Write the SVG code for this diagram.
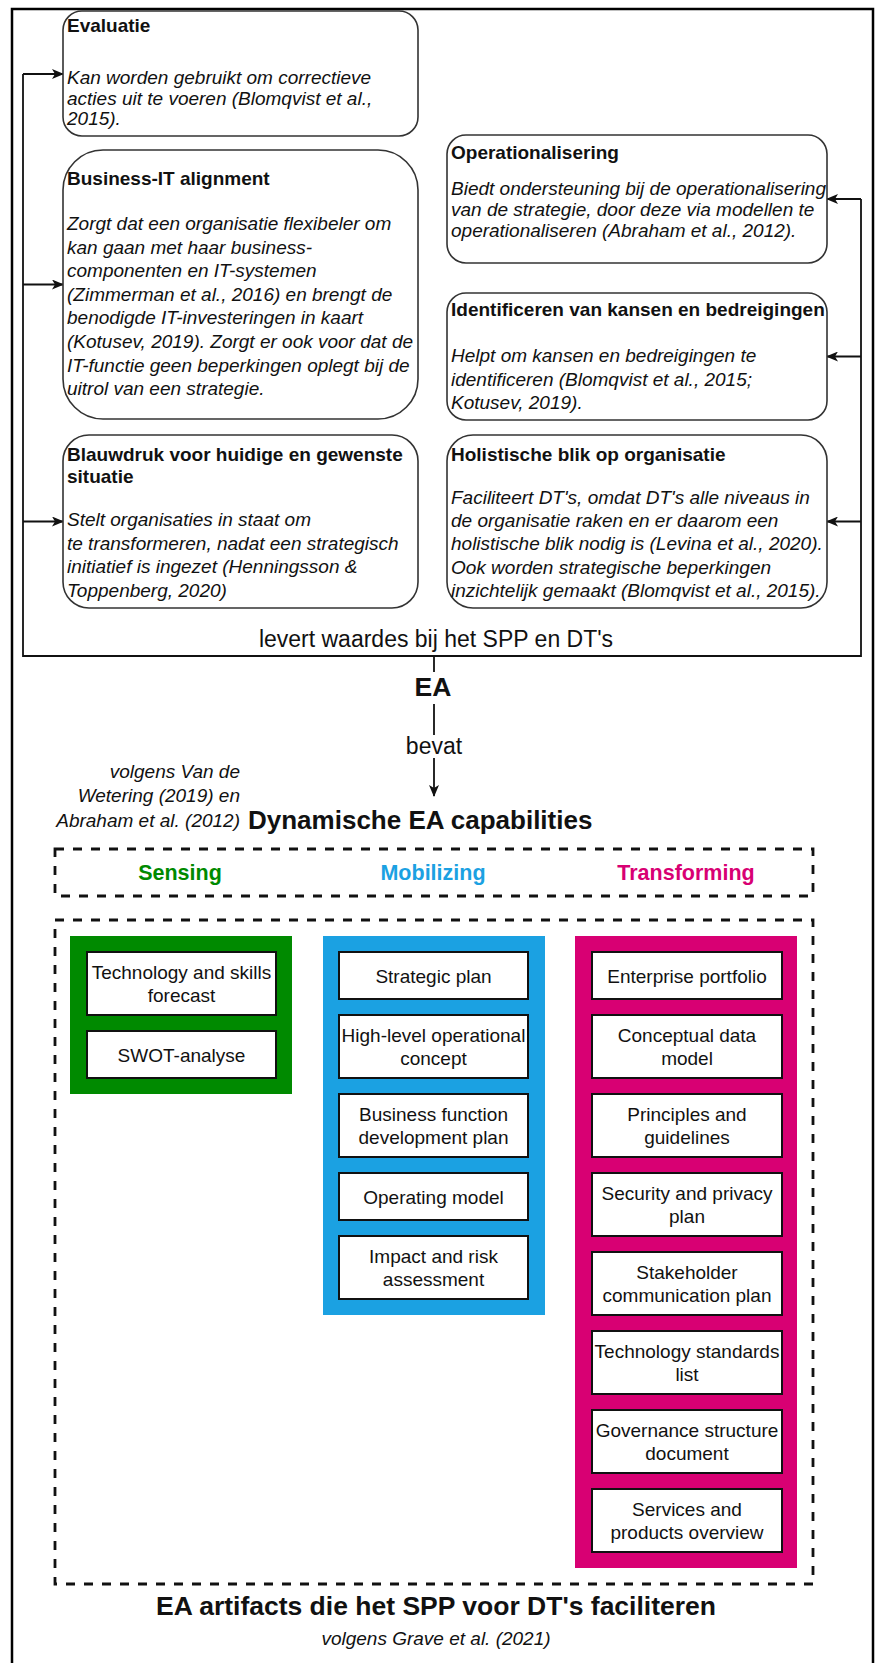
<svg xmlns="http://www.w3.org/2000/svg" width="880" height="1663" viewBox="0 0 880 1663">
  <defs>
    <style>
      text { font-family: "Liberation Sans", Arial, Helvetica, sans-serif; fill: #111; }
      .title { font-size: 19px; font-weight: bold; }
      .body { font-size: 19px; font-style: italic; }
      .card { fill: #fff; stroke: #333; stroke-width: 1.6; }
      .wire { fill: none; stroke: #111; stroke-width: 1.8; }
      .frame { fill: none; stroke: #000; stroke-width: 2.5; }
      .dash { fill: none; stroke: #111; stroke-width: 2.8; stroke-dasharray: 9 9; }
      .art { fill: #fff; stroke: #111; stroke-width: 2; }
      .artText { font-size: 19px; text-anchor: middle; }
      .label { font-size: 23px; text-anchor: middle; }
      .head { font-weight: bold; }
      .cite { font-size: 19px; font-style: italic; }
    </style>
    <marker id="arrow" viewBox="0 0 12 10" refX="11" refY="5" markerWidth="12" markerHeight="10" markerUnits="userSpaceOnUse" orient="auto">
      <path d="M0,0 L12,5 L0,10 L3,5 Z" fill="#111"/>
    </marker>
  </defs>

  <rect width="880" height="1663" fill="#fff"/>
  <!-- outer frame, open at the bottom -->
  <rect class="frame" x="12" y="9" width="861" height="1700"/>

  <!-- connectors -->
  <g id="connectors">
    <!-- EA feeds the six value boxes -->
    <polyline class="wire" points="23,74 23,656 861,656 861,199"/>
    <line class="wire" x1="23" y1="74" x2="63" y2="74" marker-end="url(#arrow)"/>
    <line class="wire" x1="23" y1="284.5" x2="63" y2="284.5" marker-end="url(#arrow)"/>
    <line class="wire" x1="23" y1="521.5" x2="63" y2="521.5" marker-end="url(#arrow)"/>
    <line class="wire" x1="861" y1="199" x2="827" y2="199" marker-end="url(#arrow)"/>
    <line class="wire" x1="861" y1="356.5" x2="827" y2="356.5" marker-end="url(#arrow)"/>
    <line class="wire" x1="861" y1="521.5" x2="827" y2="521.5" marker-end="url(#arrow)"/>
    <text class="label" x="436" y="647">levert waardes bij het SPP en DT's</text>
    <!-- EA contains the dynamic capabilities -->
    <line class="wire" x1="434" y1="656" x2="434" y2="672"/>
    <line class="wire" x1="434" y1="704" x2="434" y2="735"/>
    <line class="wire" x1="434" y1="758" x2="434" y2="796" marker-end="url(#arrow)"/>
    <text class="label" x="434" y="754">bevat</text>
  </g>

  <!-- value boxes, left column -->
  <g id="evaluatie">
    <rect class="card" x="63" y="11" width="355" height="125" rx="19"/>
    <text class="title" x="67" y="32">Evaluatie</text>
    <text class="body" x="67" y="84">Kan worden gebruikt om correctieve</text>
    <text class="body" x="67" y="104.5">acties uit te voeren (Blomqvist et al.,</text>
    <text class="body" x="67" y="125">2015).</text>
  </g>
  <g id="business-it">
    <rect class="card" x="63" y="150" width="355" height="269" rx="40"/>
    <text class="title" x="67" y="185">Business-IT alignment</text>
    <text class="body" x="67" y="230">Zorgt dat een organisatie flexibeler om</text>
    <text class="body" x="67" y="253.6">kan gaan met haar business-</text>
    <text class="body" x="67" y="277.2">componenten en IT-systemen</text>
    <text class="body" x="67" y="300.8">(Zimmerman et al., 2016) en brengt de</text>
    <text class="body" x="67" y="324.4">benodigde IT-investeringen in kaart</text>
    <text class="body" x="67" y="348">(Kotusev, 2019). Zorgt er ook voor dat de</text>
    <text class="body" x="67" y="371.6">IT-functie geen beperkingen oplegt bij de</text>
    <text class="body" x="67" y="395.2">uitrol van een strategie.</text>
  </g>
  <g id="blauwdruk">
    <rect class="card" x="63" y="435" width="355" height="173" rx="26"/>
    <text class="title" x="67" y="461">Blauwdruk voor huidige en gewenste</text>
    <text class="title" x="67" y="483">situatie</text>
    <text class="body" x="67" y="526">Stelt organisaties in staat om</text>
    <text class="body" x="67" y="549.6">te transformeren, nadat een strategisch</text>
    <text class="body" x="67" y="573.2">initiatief is ingezet (Henningsson &amp;</text>
    <text class="body" x="67" y="596.8">Toppenberg, 2020)</text>
  </g>

  <!-- value boxes, right column -->
  <g id="operationalisering">
    <rect class="card" x="447" y="135" width="380" height="128" rx="19"/>
    <text class="title" x="451" y="159">Operationalisering</text>
    <text class="body" x="451" y="195">Biedt ondersteuning bij de operationalisering</text>
    <text class="body" x="451" y="216">van de strategie, door deze via modellen te</text>
    <text class="body" x="451" y="237">operationaliseren (Abraham et al., 2012).</text>
  </g>
  <g id="kansen">
    <rect class="card" x="447" y="293" width="380" height="127" rx="19"/>
    <text class="title" x="451" y="316">Identificeren van kansen en bedreigingen</text>
    <text class="body" x="451" y="362">Helpt om kansen en bedreigingen te</text>
    <text class="body" x="451" y="385.5">identificeren (Blomqvist et al., 2015;</text>
    <text class="body" x="451" y="409">Kotusev, 2019).</text>
  </g>
  <g id="holistisch">
    <rect class="card" x="447" y="435" width="380" height="173" rx="26"/>
    <text class="title" x="451" y="461">Holistische blik op organisatie</text>
    <text class="body" x="451" y="504">Faciliteert DT's, omdat DT's alle niveaus in</text>
    <text class="body" x="451" y="527.2">de organisatie raken en er daarom een</text>
    <text class="body" x="451" y="550.4">holistische blik nodig is (Levina et al., 2020).</text>
    <text class="body" x="451" y="573.6">Ook worden strategische beperkingen</text>
    <text class="body" x="451" y="596.8">inzichtelijk gemaakt (Blomqvist et al., 2015).</text>
  </g>

  <!-- EA node -->
  <g id="ea">
    <text class="head" x="433" y="696" font-size="26.5" text-anchor="middle">EA</text>
  </g>

  <!-- dynamic EA capabilities -->
  <g id="capabilities">
    <text class="cite" x="240" y="778" text-anchor="end">volgens Van de</text>
    <text class="cite" x="240" y="802" text-anchor="end">Wetering (2019) en</text>
    <text class="cite" x="240" y="827" text-anchor="end">Abraham et al. (2012)</text>
    <text class="head" x="248" y="829" font-size="26">Dynamische EA capabilities</text>
    <rect class="dash" x="55" y="849" width="758" height="47"/>
    <text class="head" x="180" y="880" font-size="21.5" text-anchor="middle" style="fill:#008a00">Sensing</text>
    <text class="head" x="433" y="880" font-size="21.5" text-anchor="middle" style="fill:#1ba1e2">Mobilizing</text>
    <text class="head" x="686" y="880" font-size="21.5" text-anchor="middle" style="fill:#d80073">Transforming</text>
  </g>

  <!-- EA artifacts -->
  <g id="artifacts">
    <rect class="dash" x="55" y="920" width="758" height="664"/>
    <text class="head" x="436" y="1615" font-size="26.5" text-anchor="middle">EA artifacts die het SPP voor DT's faciliteren</text>
    <text class="cite" x="436" y="1645" text-anchor="middle">volgens Grave et al. (2021)</text>
  </g>

  <g id="sensing">
    <rect x="70" y="936" width="222" height="158" fill="#008a00"/>
    <rect class="art" x="87" y="952" width="189" height="63"/>
    <text class="artText" x="181.5" y="979">Technology and skills</text>
    <text class="artText" x="181.5" y="1002">forecast</text>
    <rect class="art" x="87" y="1031" width="189" height="47"/>
    <text class="artText" x="181.5" y="1061.5">SWOT-analyse</text>
  </g>

  <g id="mobilizing">
    <rect x="323" y="936" width="222" height="379" fill="#1ba1e2"/>
    <rect class="art" x="339" y="952" width="189" height="47"/>
    <text class="artText" x="433.5" y="982.5">Strategic plan</text>
    <rect class="art" x="339" y="1015" width="189" height="63"/>
    <text class="artText" x="433.5" y="1042">High-level operational</text>
    <text class="artText" x="433.5" y="1065">concept</text>
    <rect class="art" x="339" y="1094" width="189" height="63"/>
    <text class="artText" x="433.5" y="1121">Business function</text>
    <text class="artText" x="433.5" y="1144">development plan</text>
    <rect class="art" x="339" y="1173" width="189" height="47"/>
    <text class="artText" x="433.5" y="1203.5">Operating model</text>
    <rect class="art" x="339" y="1236" width="189" height="63"/>
    <text class="artText" x="433.5" y="1263">Impact and risk</text>
    <text class="artText" x="433.5" y="1286">assessment</text>
  </g>

  <g id="transforming">
    <rect x="575" y="936" width="222" height="632" fill="#d80073"/>
    <rect class="art" x="592" y="952" width="190" height="47"/>
    <text class="artText" x="687" y="982.5">Enterprise portfolio</text>
    <rect class="art" x="592" y="1015" width="190" height="63"/>
    <text class="artText" x="687" y="1042">Conceptual data</text>
    <text class="artText" x="687" y="1065">model</text>
    <rect class="art" x="592" y="1094" width="190" height="63"/>
    <text class="artText" x="687" y="1121">Principles and</text>
    <text class="artText" x="687" y="1144">guidelines</text>
    <rect class="art" x="592" y="1173" width="190" height="63"/>
    <text class="artText" x="687" y="1200">Security and privacy</text>
    <text class="artText" x="687" y="1223">plan</text>
    <rect class="art" x="592" y="1252" width="190" height="63"/>
    <text class="artText" x="687" y="1279">Stakeholder</text>
    <text class="artText" x="687" y="1302">communication plan</text>
    <rect class="art" x="592" y="1331" width="190" height="63"/>
    <text class="artText" x="687" y="1358">Technology standards</text>
    <text class="artText" x="687" y="1381">list</text>
    <rect class="art" x="592" y="1410" width="190" height="63"/>
    <text class="artText" x="687" y="1437">Governance structure</text>
    <text class="artText" x="687" y="1460">document</text>
    <rect class="art" x="592" y="1489" width="190" height="63"/>
    <text class="artText" x="687" y="1516">Services and</text>
    <text class="artText" x="687" y="1539">products overview</text>
  </g>
</svg>
